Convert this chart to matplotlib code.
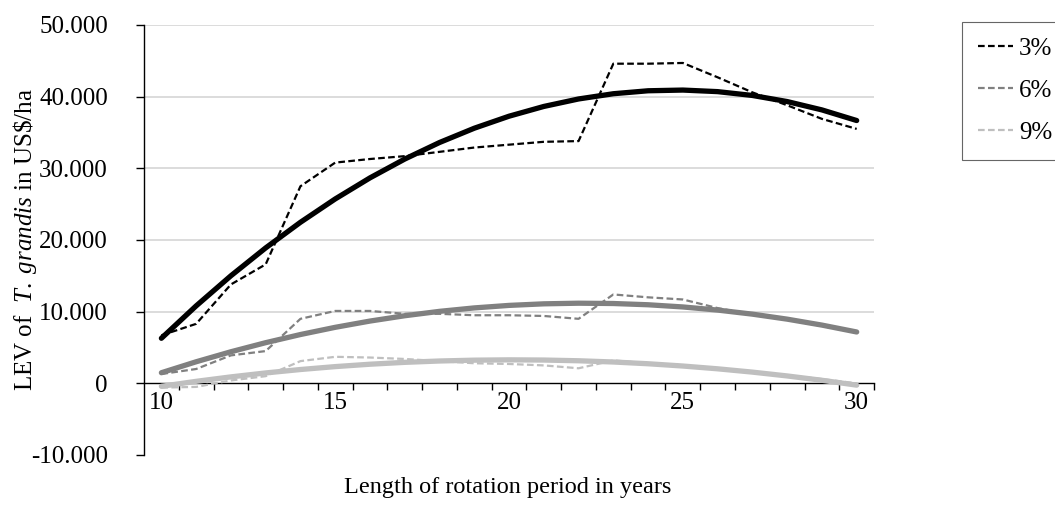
import matplotlib.pyplot as plt
from matplotlib.ticker import FixedLocator, FuncFormatter
import numpy as np

plt.rcParams['font.family'] = ['Liberation Serif', 'DejaVu Serif']
plt.rcParams['mathtext.fontset'] = 'custom'
plt.rcParams['mathtext.rm'] = 'Liberation Serif'
plt.rcParams['mathtext.it'] = 'Liberation Serif:italic'

# rotation period (years)
years = np.arange(10, 31)

# LEV in US$/ha per discount rate
lev_3 = [6700, 8300, 13800, 16600, 27500, 30800, 31300, 31700, 32300, 32900, 33300,
         33700, 33800, 44600, 44600, 44700, 42700, 40600, 38800, 36900, 35500]
lev_6 = [1300, 2000, 3900, 4500, 9000, 10100, 10100, 9700, 9700, 9500, 9500,
         9400, 9000, 12400, 12000, 11700, 10500, 9600, 8900, 8000, 7100]
lev_9 = [-600, -500, 400, 1000, 3100, 3700, 3600, 3400, 3100, 2800, 2700,
         2500, 2100, 3200, 2800, 2500, 2000, 1500, 1100, 600, 0]

labels = ['3%', '6%', '9%']
colors = ['#000000', '#808080', '#bfbfbf']

fig = plt.figure(figsize=(10.55, 5.09), dpi=100)
ax = fig.add_axes([0.1365, 0.1061, 0.692, 0.8448])

# polynomial trend lines (order 2), like the spreadsheet trendlines
for vals, c in zip([lev_3, lev_6, lev_9], colors):
    coef = np.polyfit(years, vals, 2)
    ax.plot(years, np.polyval(coef, years), color=c, lw=3.8,
            solid_capstyle='round', solid_joinstyle='round', zorder=3)

for vals, c, lab in zip([lev_3, lev_6, lev_9], colors, labels):
    ax.plot(years, vals, color=c, lw=1.6, ls=(0, (3, 1.5)), label=lab, zorder=4)

ax.set_xlim(9.5, 30.5)
ax.set_ylim(-10000, 50000)

ax.spines['top'].set_visible(False)
ax.spines['right'].set_visible(False)
ax.spines['bottom'].set_position(('data', 0))
ax.spines['bottom'].set_linewidth(1.0)
ax.spines['left'].set_linewidth(1.0)

ax.xaxis.set_major_locator(FixedLocator([10, 15, 20, 25, 30]))
ax.xaxis.set_minor_locator(FixedLocator(np.arange(10.5, 31, 1)))
ax.tick_params(axis='x', which='major', length=0, pad=6, labelsize=18)
ax.tick_params(axis='x', which='minor', length=5, direction='out', width=1)

yt = np.arange(-10000, 50001, 10000)
ax.set_yticks(yt)
ax.yaxis.set_major_formatter(FuncFormatter(lambda v, p: f"{int(v):,}".replace(',', '.')))
ax.tick_params(axis='y', length=6, width=1, direction='out', labelsize=18, pad=20)

for v in yt:
    if v > 0:
        ax.axhline(v, color='#d9d9d9', lw=1.3, zorder=0)

ax.set_ylabel(r"LEV of  $\mathit{T.\ grandis}$ in US\$/ha", fontsize=18, labelpad=-6)
fig.text(0.4815, 0.042, "Length of rotation period in years", ha='center', va='center',
         fontsize=17.5)

leg = ax.legend(loc='upper left', bbox_to_anchor=(962 / 1055, 1 - 22 / 509),
                bbox_transform=fig.transFigure, fontsize=18, frameon=True,
                fancybox=False, handlelength=1.4, handletextpad=0.25,
                labelspacing=0.78, borderpad=0.62, borderaxespad=0)
leg.get_frame().set_edgecolor('#404040')
leg.get_frame().set_linewidth(0.8)

fig.savefig('out.png', dpi=100)
